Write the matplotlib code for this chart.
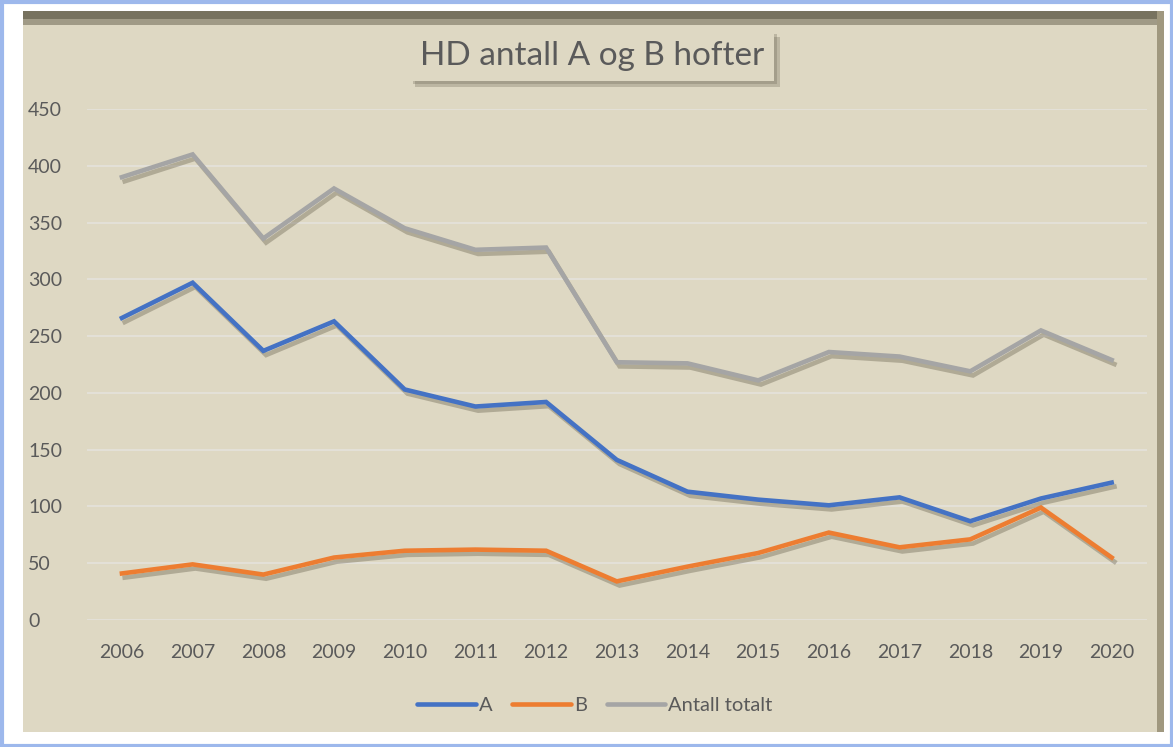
import matplotlib.pyplot as plt
import matplotlib.patheffects as pe
from matplotlib.lines import Line2D
from matplotlib.patches import Rectangle

years = list(range(2006, 2021))
a_hips = [266, 297, 237, 263, 203, 188, 192, 141, 113, 106, 101, 108, 87, 107, 121]
b_hips = [41, 49, 40, 55, 61, 62, 61, 34, 47, 59, 77, 64, 71, 99, 55]
total = [390, 410, 336, 380, 345, 326, 328, 227, 226, 211, 236, 232, 219, 255, 229]
series_names = ['A', 'B', 'Antall totalt']
y_ticks = list(range(0, 451, 50))

colors = ['#4472C4', '#ED7D31', '#A5A5A5']
bg = '#DED8C3'
txt = '#5A5A5A'
plt.rcParams['font.family'] = ['Lato', 'DejaVu Sans']

fig = plt.figure(figsize=(11.73, 7.47), dpi=100, facecolor='white')
W, H = 1173, 747

# frame: light blue outline, beige panel with bevel edges
def frame_rect(x, y, w, h, **kw):
    fig.patches.append(Rectangle((x / W, y / H), w / W, h / H, transform=fig.transFigure,
                                 zorder=-10, **kw))

frame_rect(1.5, 1.5, W - 3, H - 3, fill=False, edgecolor='#9DB8EC', lw=3)
frame_rect(23, 15, 1140, 721, facecolor=bg, edgecolor='none')
frame_rect(23, 722, 1140, 14, facecolor='#A09A86', edgecolor='none')
frame_rect(23, 728, 1140, 8, facecolor='#77725F', edgecolor='none')
frame_rect(1157, 15, 7, 721, facecolor='#A0987F', edgecolor='none')

ax = fig.add_axes([86.6 / W, 1 - 620 / H, (1147 - 86.6) / W, (620 - 109) / H])
ax.set_facecolor('none')

shadow = [pe.SimpleLineShadow(offset=(2, -3), shadow_color='#6B6552', alpha=0.4), pe.Normal()]
for vals, c in zip([a_hips, b_hips, total], colors):
    ax.plot(years, vals, color=c, lw=3.3, solid_joinstyle='miter', zorder=3, path_effects=shadow)

ax.set_xlim(2005.5, 2020.5)
ax.set_ylim(0, 450)
ax.set_xticks(years)
ax.set_yticks(y_ticks)
ax.yaxis.grid(True, color='#E4E1D8', lw=1.4)
ax.set_axisbelow(True)
for s in ax.spines.values():
    s.set_visible(False)
ax.tick_params(axis='both', length=0, labelsize=14, labelcolor=txt)
ax.tick_params(axis='y', pad=42)
ax.tick_params(axis='x', pad=17)
for lab in ax.get_yticklabels():
    lab.set_horizontalalignment('left')

title = fig.text(592 / W, 1 - 56 / H, 'HD antall A og B hofter', ha='center', va='center',
                 fontsize=24, color=txt,
                 bbox=dict(boxstyle='square,pad=0.3', facecolor=bg, edgecolor='none'))
title.get_bbox_patch().set_path_effects([
    pe.SimplePatchShadow(offset=(4, -4), shadow_rgbFace='#6E6856', alpha=0.3),
    pe.SimplePatchShadow(offset=(2, -2), shadow_rgbFace='#6E6856', alpha=0.3),
    pe.Normal()])

handles = [Line2D([], [], color=c, lw=3.3, solid_capstyle='round') for c in colors]
fig.legend(handles, series_names, loc='center', bbox_to_anchor=(595 / W, 1 - 705 / H), ncol=3,
           frameon=False, fontsize=14.5, labelcolor=txt, handlelength=2.9, handletextpad=0.15,
           columnspacing=1.0)

fig.savefig('out.png', dpi=100, facecolor='white')
